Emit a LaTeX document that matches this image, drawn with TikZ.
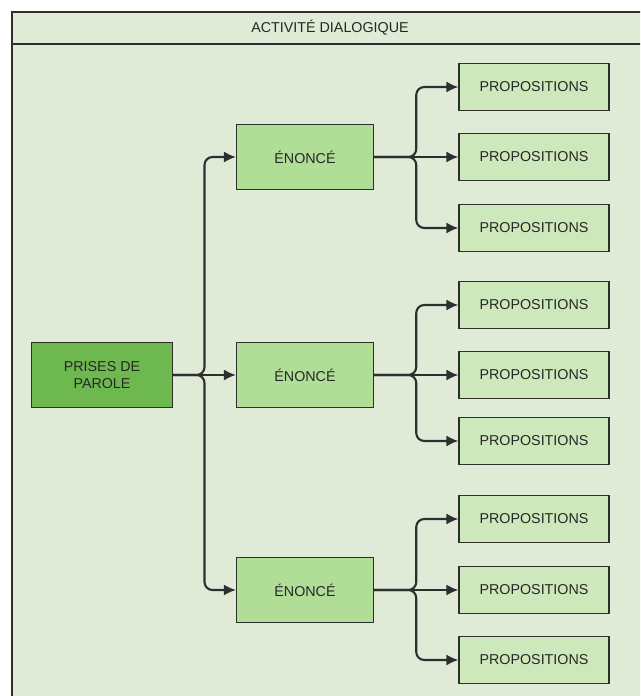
\documentclass[tikz,border=0pt]{standalone}
\usepackage{fontspec}
\setmainfont{Liberation Sans}
\usetikzlibrary{arrows.meta,positioning,calc}
\definecolor{fond}{HTML}{DFEBD6}
\definecolor{vertfonce}{HTML}{6DB94F}
\definecolor{vertmoyen}{HTML}{B0DE97}
\definecolor{vertclair}{HTML}{CDE8BA}
\definecolor{trait}{HTML}{2E2E2E}

\begin{document}
\begin{tikzpicture}[x=1pt,y=-1pt,>={Latex[length=12pt,width=11pt]},font=\fontsize{14.3}{16.5}\selectfont,text=black!85]
	\tikzset{bloc/.style={draw=trait,line width=1.1pt,align=center,inner sep=0pt}}
	\tikzset{prise/.style={bloc,fill=vertfonce,minimum width=141pt,minimum height=65pt}}
	\tikzset{enonce/.style={bloc,fill=vertmoyen,minimum width=137pt,minimum height=65pt}}
	\tikzset{prop/.style={bloc,fill=vertclair,minimum width=150pt,minimum height=47pt}}
	\tikzset{lien/.style={->,draw=trait,line width=2.1pt,rounded corners=8pt}}
	% cadre
	\useasboundingbox (0,0) rectangle (640,696);
	\clip (0,0) rectangle (640,696);
	\fill[white] (0,0) rectangle (640,696);
	\draw[trait,fill=fond,line width=1.1pt] (12,12) rectangle (660,720);
	\draw[trait,line width=1.1pt] (12,44) -- (660,44);
	\node (T) at (330,28) {ACTIVITÉ DIALOGIQUE};
	% noeuds
	\node[prise] (PP) at (102,375) {PRISES DE\\PAROLE};
	\node[enonce] (E1) at (305,157) {ÉNONCÉ};
	\node[enonce] (E2) at (305,375) {ÉNONCÉ};
	\node[enonce] (E3) at (305,590) {ÉNONCÉ};
	\node[prop] (P1a) at (534,87) {PROPOSITIONS};
	\node[prop] (P1b) at (534,157) {PROPOSITIONS};
	\node[prop] (P1c) at (534,228) {PROPOSITIONS};
	\node[prop] (P2a) at (534,305) {PROPOSITIONS};
	\node[prop] (P2b) at (534,375) {PROPOSITIONS};
	\node[prop] (P2c) at (534,441) {PROPOSITIONS};
	\node[prop] (P3a) at (534,519) {PROPOSITIONS};
	\node[prop] (P3b) at (534,590) {PROPOSITIONS};
	\node[prop] (P3c) at (534,660) {PROPOSITIONS};
	% liens
	\coordinate (J) at ($(PP.east)!.5!(E2.west)$);
	\draw[lien] (PP.east) -- (J) |- (E1.west);
	\draw[lien] (PP.east) -- (E2.west);
	\draw[lien] (PP.east) -- (J) |- (E3.west);
	\coordinate (J1) at ($(E1.east)!.5!(P1b.west)$);
	\draw[lien] (E1.east) -- (J1) |- (P1a.west);
	\draw[lien] (E1.east) -- (P1b.west);
	\draw[lien] (E1.east) -- (J1) |- (P1c.west);
	\coordinate (J2) at ($(E2.east)!.5!(P2b.west)$);
	\draw[lien] (E2.east) -- (J2) |- (P2a.west);
	\draw[lien] (E2.east) -- (P2b.west);
	\draw[lien] (E2.east) -- (J2) |- (P2c.west);
	\coordinate (J3) at ($(E3.east)!.5!(P3b.west)$);
	\draw[lien] (E3.east) -- (J3) |- (P3a.west);
	\draw[lien] (E3.east) -- (P3b.west);
	\draw[lien] (E3.east) -- (J3) |- (P3c.west);
\end{tikzpicture}
\end{document}
